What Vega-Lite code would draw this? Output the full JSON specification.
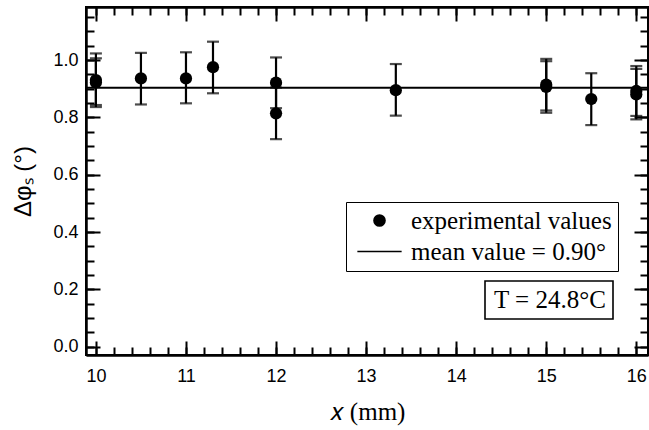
{
  "$schema": "https://vega.github.io/schema/vega-lite/v6.json",
  "width": 562,
  "height": 348,
  "autosize": {"type": "none"},
  "padding": {"left": 86, "top": 7, "right": 1, "bottom": 75},
  "background": "white",
  "config": {
    "view": {"stroke": "black", "strokeWidth": 2},
    "axis": {
      "grid": false,
      "domainColor": "black",
      "domainWidth": 2,
      "tickColor": "black",
      "tickWidth": 2,
      "labelColor": "black",
      "labelFont": "Liberation Sans",
      "labelFontSize": 18,
      "titleColor": "black",
      "titleFontWeight": "normal"
    }
  },
  "datasets": {
    "pts": [
      {"x": 10, "y": 0.93, "lo": 0.843, "hi": 1.023, "series": "experimental values"},
      {"x": 10, "y": 0.922, "lo": 0.836, "hi": 1.006, "series": "experimental values"},
      {"x": 10.5, "y": 0.936, "lo": 0.845, "hi": 1.025, "series": "experimental values"},
      {"x": 11, "y": 0.936, "lo": 0.849, "hi": 1.027, "series": "experimental values"},
      {"x": 11.3, "y": 0.975, "lo": 0.884, "hi": 1.064, "series": "experimental values"},
      {"x": 12, "y": 0.921, "lo": 0.832, "hi": 1.009, "series": "experimental values"},
      {"x": 12, "y": 0.814, "lo": 0.724, "hi": 0.904, "series": "experimental values"},
      {"x": 13.33, "y": 0.895, "lo": 0.806, "hi": 0.986, "series": "experimental values"},
      {"x": 15, "y": 0.914, "lo": 0.824, "hi": 1.004, "series": "experimental values"},
      {"x": 15, "y": 0.906, "lo": 0.816, "hi": 0.996, "series": "experimental values"},
      {"x": 15.5, "y": 0.864, "lo": 0.773, "hi": 0.954, "series": "experimental values"},
      {"x": 16, "y": 0.892, "lo": 0.805, "hi": 0.979, "series": "experimental values"},
      {"x": 16, "y": 0.88, "lo": 0.793, "hi": 0.969, "series": "experimental values"}
    ],
    "mean": [
      {"mean": 0.903, "series": "mean value = 0.90°", "cond": "T = 24.8°C"}
    ]
  },
  "layer": [
    {
      "data": {"name": "pts"},
      "mark": {"type": "rule", "color": "black", "strokeWidth": 2.2},
      "encoding": {
        "x": {
          "field": "x", "type": "quantitative",
          "scale": {"domain": [9.89, 16.13], "nice": false, "zero": false},
          "axis": {
            "orient": "bottom",
            "values": [10, 11, 12, 13, 14, 15, 16],
            "format": "d",
            "tickSize": -14,
            "labelPadding": 26,
            "labelFlush": false,
            "labelOverlap": false,
            "title": "𝑥 (mm)",
            "titleFont": "Liberation Serif",
            "titleFontSize": 25,
            "titlePadding": 14
          }
        },
        "y": {
          "field": "lo", "type": "quantitative",
          "scale": {"domain": [-0.029, 1.185], "nice": false, "zero": false},
          "axis": {
            "orient": "left",
            "values": [0, 0.2, 0.4, 0.6, 0.8, 1],
            "format": ".1f",
            "tickSize": -14,
            "labelPadding": 22,
            "labelFlush": false,
            "labelOverlap": false,
            "title": "Δφₛ (°)",
            "titleFont": "Liberation Sans",
            "titleFontSize": 24,
            "titlePadding": 17
          }
        },
        "y2": {"field": "hi"}
      }
    },
    {
      "data": {"name": "pts"},
      "mark": {"type": "tick", "orient": "horizontal", "color": "black", "size": 12, "thickness": 2.2},
      "encoding": {
        "x": {
          "field": "x", "type": "quantitative",
          "scale": {"domain": [9.89, 16.13], "nice": false, "zero": false},
          "axis": {
            "orient": "bottom",
            "values": [10,10.2,10.4,10.6,10.8,11,11.2,11.4,11.6,11.8,12,12.2,12.4,12.6,12.8,13,13.2,13.4,13.6,13.8,14,14.2,14.4,14.6,14.8,15,15.2,15.4,15.6,15.8,16],
            "labels": false,
            "tickSize": -8,
            "title": null
          }
        },
        "y": {
          "field": "lo", "type": "quantitative",
          "scale": {"domain": [-0.029, 1.185], "nice": false, "zero": false},
          "axis": {
            "orient": "left",
            "values": [0,0.05,0.1,0.15,0.2,0.25,0.3,0.35,0.4,0.45,0.5,0.55,0.6,0.65,0.7,0.75,0.8,0.85,0.9,0.95,1,1.05,1.1,1.15],
            "labels": false,
            "tickSize": -8,
            "title": null
          }
        }
      }
    },
    {
      "data": {"name": "pts"},
      "mark": {"type": "tick", "orient": "horizontal", "color": "black", "size": 12, "thickness": 2.2},
      "encoding": {
        "x": {
          "field": "x", "type": "quantitative",
          "scale": {"domain": [9.89, 16.13], "nice": false, "zero": false},
          "axis": {
            "orient": "top",
            "values": [10, 11, 12, 13, 14, 15, 16],
            "labels": false,
            "tickSize": -14,
            "title": null
          }
        },
        "y": {
          "field": "hi", "type": "quantitative",
          "scale": {"domain": [-0.029, 1.185], "nice": false, "zero": false},
          "axis": {
            "orient": "right",
            "values": [0, 0.2, 0.4, 0.6, 0.8, 1],
            "labels": false,
            "tickSize": -14,
            "title": null
          }
        }
      }
    },
    {
      "data": {"name": "pts"},
      "mark": {"type": "point", "filled": true, "color": "black", "size": 150, "opacity": 1},
      "encoding": {
        "x": {
          "field": "x", "type": "quantitative",
          "scale": {"domain": [9.89, 16.13], "nice": false, "zero": false},
          "axis": {
            "orient": "top",
            "values": [10,10.2,10.4,10.6,10.8,11,11.2,11.4,11.6,11.8,12,12.2,12.4,12.6,12.8,13,13.2,13.4,13.6,13.8,14,14.2,14.4,14.6,14.8,15,15.2,15.4,15.6,15.8,16],
            "labels": false,
            "tickSize": -8,
            "title": null
          }
        },
        "y": {
          "field": "y", "type": "quantitative",
          "scale": {"domain": [-0.029, 1.185], "nice": false, "zero": false},
          "axis": {
            "orient": "right",
            "values": [0,0.05,0.1,0.15,0.2,0.25,0.3,0.35,0.4,0.45,0.5,0.55,0.6,0.65,0.7,0.75,0.8,0.85,0.9,0.95,1,1.05,1.1,1.15],
            "labels": false,
            "tickSize": -8,
            "title": null
          }
        },
        "shape": {
          "field": "series", "type": "nominal",
          "scale": {"domain": ["experimental values", "mean value = 0.90°"], "range": ["circle", "M-3.5,-0.13H3.5V0.13H-3.5Z"]},
          "legend": {
            "title": null,
            "orient": "none",
            "legendX": 260,
            "legendY": 195,
            "padding": 6,
            "rowPadding": 5,
            "labelFont": "Liberation Serif",
            "labelFontSize": 25,
            "labelColor": "black",
            "labelLimit": 400,
            "symbolSize": 160,
            "symbolOffset": 15,
            "labelOffset": 19,
            "symbolFillColor": "black",
            "symbolStrokeColor": "black",
            "strokeColor": "black",
            "fillColor": "white",
            "encode": {
              "symbols": {"update": {"fill": {"value": "black"}, "opacity": {"value": 1}}},
              "legend": {"update": {"strokeWidth": {"value": 1.6}}}
            }
          }
        }
      }
    },
    {
      "data": {"name": "mean"},
      "mark": {"type": "rule", "strokeWidth": 2},
      "encoding": {
        "y": {"field": "mean", "type": "quantitative", "scale": {"domain": [-0.029, 1.185], "nice": false, "zero": false}, "axis": null},
        "color": {
          "field": "cond", "type": "nominal",
          "scale": {"domain": ["T = 24.8°C"], "range": ["black"]},
          "legend": {
            "title": null,
            "orient": "none",
            "legendX": 399,
            "legendY": 274,
            "padding": 6,
            "labelFont": "Liberation Serif",
            "labelFontSize": 25,
            "labelColor": "black",
            "labelLimit": 400,
            "symbolSize": 0,
            "symbolOpacity": 0,
            "symbolStrokeWidth": 0,
            "labelOffset": -22,
            "strokeColor": "black",
            "fillColor": "white",
            "encode": {
              "legend": {"update": {"strokeWidth": {"value": 1.6}}}
            }
          }
        }
      }
    }
  ],
  "resolve": {"axis": {"x": "independent", "y": "independent"}}
}
